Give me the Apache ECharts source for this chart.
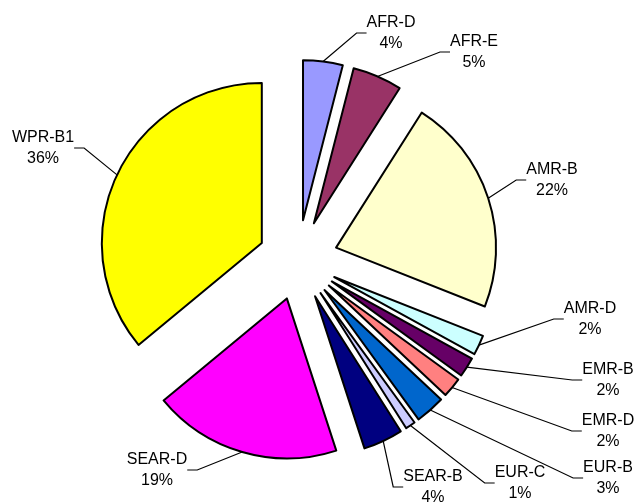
<!DOCTYPE html>
<html>
<head>
<meta charset="utf-8">
<script src="https://cdn.jsdelivr.net/npm/echarts@6/dist/echarts.min.js"></script>
<style>
  html, body { margin: 0; padding: 0; background: #fff; }
  #chart { width: 639px; height: 502px; }
</style>
</head>
<body>
<div id="chart"></div>
<script>
// regions, clockwise from 12 o'clock
const regions = ['AFR-D', 'AFR-E', 'AMR-B', 'AMR-D', 'EMR-B', 'EMR-D', 'EUR-B', 'EUR-C', 'SEAR-B', 'SEAR-D', 'WPR-B1'];
const shares = [4, 5, 22, 2, 2, 2, 3, 1, 4, 19, 36];

const palette = ['#9999FF', '#993366', '#FFFFCC', '#CCFFFF', '#660066', '#FF8080',
  '#0066CC', '#CCCCFF', '#000080', '#FF00FF', '#FFFF00'];

// where each label block sits (centre of the two text lines)
const labelSpots = [[391, 33], [474, 52], [552, 180], [590, 319], [608, 380], [608, 431],
  [608, 478], [520, 483], [433, 487], [157, 470], [43, 148]];

const CX = 298, CY = 260, R = 160, EXPLODE = 40;

const total = shares.reduce((a, b) => a + b, 0);
let acc = 0;

// exploded pie: one series per slice, each pushed out along its own mid angle
const series = regions.map((region, i) => {
  const mid = (acc + shares[i] / 2) / total;
  acc += shares[i];
  const ang = Math.PI / 2 - mid * 2 * Math.PI;
  return {
    type: 'pie',
    center: [CX + EXPLODE * Math.cos(ang), CY - EXPLODE * Math.sin(ang)],
    radius: R,
    startAngle: 90,
    clockwise: true,
    avoidLabelOverlap: false,
    emphasis: { disabled: true },
    label: {
      position: 'outside',
      formatter: '{b}\n{d}%',
      fontFamily: 'Liberation Sans, Arial, sans-serif',
      fontSize: 16,
      lineHeight: 21,
      color: '#000'
    },
    labelLine: {
      length: 10,
      length2: 10,
      lineStyle: { color: '#000', width: 1.2 }
    },
    labelLayout: function (p) {
      const s = labelSpots[p.dataIndex];
      return { x: s[0], y: s[1], align: 'center', verticalAlign: 'middle' };
    },
    data: regions.map((name, j) => ({
      name: name,
      value: shares[j],
      itemStyle: j === i
        ? { color: palette[j], borderColor: '#000', borderWidth: 2 }
        : { color: 'rgba(0,0,0,0)', borderWidth: 0 },
      label: { show: j === i },
      labelLine: { show: j === i }
    }))
  };
});

const chart = echarts.init(document.getElementById('chart'));
chart.setOption({ animation: false, series: series });
</script>
</body>
</html>
